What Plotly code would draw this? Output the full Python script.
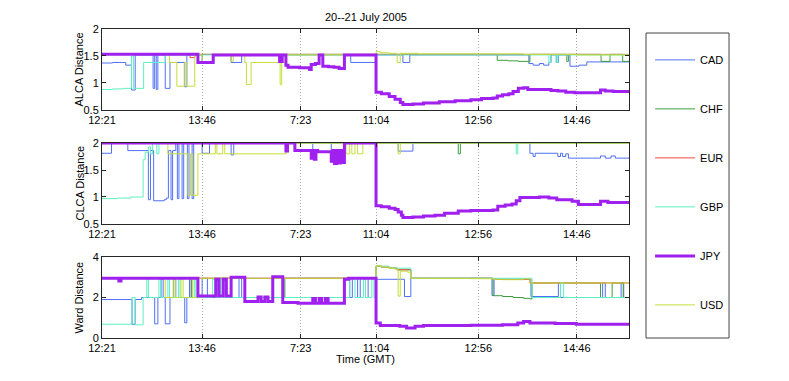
import plotly.graph_objects as go

# ---- data (x = sample index along the 20-21 July session, 0..1000) ----
currencies = ['CAD', 'CHF', 'EUR', 'GBP', 'JPY', 'USD']
tick_vals = [0, 190, 377, 520, 714, 901]
tick_text = ['12:21', '13:46', '7:23', '11:04', '12:56', '14:46']

# ALCA distance
alca_cad_x = [0, 20, 45, 56, 63, 97, 100, 103, 106, 120, 129, 157, 161, 190, 212, 245, 265, 472, 520, 571, 584, 810, 818, 830, 838, 848, 852, 862, 866, 888, 905, 920, 1000]
alca_cad_y = [1.37, 1.38, 1.33, 0.87, 1.52, 0.90, 1.52, 0.88, 1.52, 0.90, 1.38, 0.93, 1.52, 1.38, 1.52, 1.38, 1.52, 1.38, 1.52, 1.38, 1.52, 1.36, 1.33, 1.36, 1.33, 1.38, 1.52, 1.38, 1.52, 1.31, 1.33, 1.39, 1.39]
alca_chf_x = [0, 750, 770, 790, 808, 812, 882, 885, 947, 964, 988, 1000]
alca_chf_y = [1.53, 1.42, 1.41, 1.40, 1.39, 1.53, 1.40, 1.53, 1.40, 1.53, 1.40, 1.40]
alca_eur_x = [0, 167, 176, 1000]
alca_eur_y = [1.53, 1.47, 1.53, 1.53]
alca_gbp_x = [0, 20, 40, 56, 60, 79, 120, 848, 851, 862, 865, 1000]
alca_gbp_y = [0.88, 0.89, 0.90, 1.50, 0.90, 1.38, 1.52, 1.38, 1.52, 1.38, 1.52, 1.52]
alca_jpy_x = [0, 182, 211, 337, 342, 349, 353, 375, 394, 397, 405, 412, 419, 430, 440, 450, 460, 520, 530, 545, 556, 566, 571, 590, 610, 640, 670, 700, 720, 742, 750, 760, 772, 780, 790, 800, 808, 830, 852, 865, 880, 897, 930, 946, 955, 970, 1000]
alca_jpy_y = [1.53, 1.38, 1.52, 1.40, 1.52, 1.33, 1.29, 1.28, 1.25, 1.34, 1.36, 1.52, 1.31, 1.30, 1.29, 1.27, 1.52, 0.83, 0.80, 0.75, 0.70, 0.64, 0.60, 0.61, 0.63, 0.65, 0.67, 0.69, 0.71, 0.72, 0.76, 0.78, 0.80, 0.84, 0.90, 0.91, 0.88, 0.88, 0.86, 0.85, 0.83, 0.82, 0.82, 0.87, 0.85, 0.84, 0.84]
alca_usd_x = [0, 128, 142, 156, 160, 176, 190, 212, 245, 249, 271, 274, 283, 338, 341, 349, 520, 528, 545, 560, 566, 600, 700, 800, 900, 1000]
alca_usd_y = [1.53, 1.38, 0.94, 1.38, 0.94, 1.52, 1.38, 1.52, 1.40, 1.52, 1.38, 0.97, 1.38, 0.97, 1.38, 1.52, 1.58, 1.56, 1.55, 1.38, 1.55, 1.54, 1.54, 1.53, 1.52, 1.52]

# CLCA distance
clca_cad_x = [0, 18, 49, 88, 92, 98, 118, 122, 126, 131, 134, 140, 143, 146, 152, 155, 162, 165, 171, 174, 190, 204, 245, 250, 400, 435, 562, 590, 812, 818, 822, 865, 870, 874, 880, 885, 940, 946, 955, 966, 974, 1000]
clca_cad_y = [1.81, 2.0, 1.86, 0.95, 1.86, 0.93, 0.95, 0.98, 1.86, 0.95, 1.86, 2.0, 0.97, 2.0, 0.97, 2.0, 0.97, 2.0, 0.97, 2.0, 1.81, 2.0, 1.78, 2.0, 1.83, 2.0, 1.85, 2.0, 1.81, 1.75, 1.81, 1.75, 1.81, 1.75, 1.80, 1.72, 1.72, 1.76, 1.72, 1.76, 1.72, 1.71]
clca_chf_x = [0, 676, 680, 1000]
clca_chf_y = [2.0, 1.80, 2.0, 2.0]
clca_eur_x = [0, 1000]
clca_eur_y = [2.0, 2.0]
clca_gbp_x = [0, 30, 55, 78, 82, 88, 92, 96, 104, 108, 786, 789, 1000]
clca_gbp_y = [0.97, 0.98, 1.0, 1.69, 1.83, 1.93, 1.80, 2.0, 1.80, 2.0, 1.80, 2.0, 2.0]
clca_jpy_x = [0, 349, 352, 366, 397, 400, 403, 406, 409, 435, 438, 441, 445, 448, 452, 455, 460, 520, 530, 545, 556, 562, 568, 571, 590, 610, 632, 650, 676, 700, 742, 751, 765, 778, 786, 793, 830, 848, 863, 892, 904, 930, 946, 960, 1000]
clca_jpy_y = [2.0, 1.85, 2.0, 1.86, 1.72, 1.86, 1.70, 1.86, 1.84, 1.66, 1.86, 1.62, 1.86, 1.63, 1.86, 1.64, 2.0, 0.84, 0.82, 0.79, 0.77, 0.72, 0.66, 0.62, 0.63, 0.65, 0.66, 0.70, 0.74, 0.75, 0.76, 0.83, 0.85, 0.87, 0.93, 0.99, 1.0, 0.98, 0.95, 0.92, 0.86, 0.86, 0.92, 0.90, 0.91]
clca_usd_x = [0, 125, 163, 168, 172, 182, 215, 218, 229, 233, 350, 463, 470, 474, 480, 485, 495, 562, 566, 1000]
clca_usd_y = [2.0, 1.80, 1.03, 1.80, 1.03, 1.80, 2.0, 1.80, 2.0, 1.80, 2.0, 1.80, 2.0, 1.80, 2.0, 1.80, 2.0, 1.80, 2.0, 2.0]

# Ward distance
ward_cad_x = [0, 57, 63, 75, 100, 106, 112, 116, 120, 129, 136, 140, 157, 161, 166, 170, 190, 200, 215, 260, 265, 470, 475, 485, 490, 500, 505, 520, 574, 586, 740, 744, 814, 866, 870, 950, 955, 985, 990, 1000]
ward_cad_y = [1.9, 0.68, 1.9, 2.0, 0.7, 2.0, 2.9, 2.0, 0.7, 2.0, 2.9, 2.0, 0.75, 2.0, 2.9, 2.0, 2.95, 2.0, 2.95, 2.0, 2.95, 2.0, 2.95, 2.0, 2.95, 2.0, 2.95, 2.9, 2.05, 2.95, 2.1, 2.9, 2.05, 2.72, 2.0, 2.72, 2.0, 2.72, 2.0, 2.0]
ward_chf_x = [0, 32, 36, 271, 347, 520, 530, 545, 560, 586, 742, 760, 780, 800, 812, 816, 946, 968, 989, 1000]
ward_chf_y = [2.95, 2.82, 2.95, 2.0, 2.95, 3.55, 3.50, 3.45, 3.37, 2.95, 2.09, 2.05, 2.0, 1.96, 1.93, 2.72, 2.0, 2.72, 2.0, 2.0]
ward_eur_x = [0, 32, 36, 520, 530, 545, 560, 586, 742, 812, 1000]
ward_eur_y = [2.95, 2.82, 2.95, 3.55, 3.50, 3.45, 3.37, 2.95, 2.90, 2.72, 2.72]
ward_gbp_x = [0, 57, 63, 78, 85, 88, 108, 111, 125, 128, 145, 148, 175, 178, 210, 214, 225, 228, 470, 480, 496, 500, 512, 516, 520, 545, 586, 816, 870, 876, 1000]
ward_gbp_y = [0.68, 2.0, 0.65, 2.0, 2.9, 2.0, 2.9, 2.0, 2.9, 2.0, 2.9, 2.0, 2.9, 2.0, 2.9, 2.0, 2.9, 2.0, 2.9, 2.0, 2.9, 2.0, 2.9, 2.0, 3.55, 3.45, 2.95, 2.0, 2.72, 2.0, 2.0]
ward_jpy_x = [0, 32, 36, 182, 216, 222, 230, 236, 245, 271, 296, 302, 309, 315, 324, 343, 372, 400, 405, 412, 417, 424, 429, 460, 468, 520, 528, 565, 578, 594, 610, 700, 760, 789, 800, 812, 860, 900, 1000]
ward_jpy_y = [2.95, 2.82, 2.95, 2.07, 2.9, 2.07, 2.9, 2.07, 3.0, 1.8, 2.02, 1.8, 2.02, 1.8, 3.02, 1.76, 1.72, 1.95, 1.72, 1.95, 1.72, 1.95, 1.72, 2.9, 2.95, 0.74, 0.62, 0.58, 0.49, 0.58, 0.62, 0.63, 0.66, 0.74, 0.82, 0.74, 0.72, 0.68, 0.68]
ward_usd_x = [0, 120, 135, 139, 150, 154, 168, 172, 182, 520, 530, 545, 555, 562, 566, 580, 586, 620, 700, 742, 760, 800, 812, 1000]
ward_usd_y = [2.95, 2.0, 2.9, 2.0, 2.9, 2.0, 2.9, 2.0, 2.95, 3.57, 3.50, 3.45, 3.40, 2.07, 3.30, 3.25, 2.95, 2.95, 2.93, 2.90, 2.88, 2.92, 2.72, 2.72]

series = {
    1: {'CAD': (alca_cad_x, alca_cad_y), 'CHF': (alca_chf_x, alca_chf_y), 'EUR': (alca_eur_x, alca_eur_y),
        'GBP': (alca_gbp_x, alca_gbp_y), 'JPY': (alca_jpy_x, alca_jpy_y), 'USD': (alca_usd_x, alca_usd_y)},
    2: {'CAD': (clca_cad_x, clca_cad_y), 'CHF': (clca_chf_x, clca_chf_y), 'EUR': (clca_eur_x, clca_eur_y),
        'GBP': (clca_gbp_x, clca_gbp_y), 'JPY': (clca_jpy_x, clca_jpy_y), 'USD': (clca_usd_x, clca_usd_y)},
    3: {'CAD': (ward_cad_x, ward_cad_y), 'CHF': (ward_chf_x, ward_chf_y), 'EUR': (ward_eur_x, ward_eur_y),
        'GBP': (ward_gbp_x, ward_gbp_y), 'JPY': (ward_jpy_x, ward_jpy_y), 'USD': (ward_usd_x, ward_usd_y)},
}

colors = {'CAD': '#5070f5', 'CHF': '#3c9e3c', 'EUR': '#f04848',
          'GBP': '#5ef0c0', 'JPY': '#a020f0', 'USD': '#c6de38'}
# draw JPY last so the thick line sits on top, like the original
draw_order = ['CAD', 'CHF', 'EUR', 'GBP', 'USD', 'JPY']

FONT = 'Liberation Sans, Arial, sans-serif'
fig = go.Figure()

for row in (1, 2, 3):
    for cur in draw_order:
        xs, ys = series[row][cur]
        fig.add_trace(go.Scatter(
            x=xs, y=ys, mode='lines', name=cur,
            line=dict(color=colors[cur], width=3 if cur == 'JPY' else 1, shape='hv'),
            xaxis='x' if row == 1 else 'x%d' % row,
            yaxis='y' if row == 1 else 'y%d' % row,
            legendgroup=cur, legendrank=currencies.index(cur) + 1,
            showlegend=(row == 1), hoverinfo='skip'
        ))

axis_common = dict(showline=True, linecolor='#262626', linewidth=1, mirror='ticks',
                   ticks='inside', ticklen=4, tickcolor='#262626',
                   tickfont=dict(family=FONT, size=11, color='black'), zeroline=False)
domains = {1: [0.738, 1.0], 2: [0.369, 0.631], 3: [0.0, 0.262]}

layout = {}
for row in (1, 2, 3):
    sx = '' if row == 1 else str(row)
    layout['xaxis' + sx] = dict(axis_common, domain=[0, 1], range=[0, 1000],
                                tickvals=tick_vals, ticktext=tick_text,
                                showgrid=True, gridcolor='#a8a8a8', griddash='1px,2px', gridwidth=1,
                                anchor='y' + sx)
    if row == 3:
        layout['yaxis' + sx] = dict(axis_common, domain=domains[row], range=[0, 4],
                                    tickvals=[0, 2, 4], ticktext=['0', '2', '4'],
                                    showgrid=False, anchor='x' + sx)
    else:
        layout['yaxis' + sx] = dict(axis_common, domain=domains[row], range=[0.5, 2],
                                    tickvals=[0.5, 1, 1.5, 2], ticktext=['0.5', '1', '1.5', '2'],
                                    showgrid=False, anchor='x' + sx)

fig.update_layout(**layout)

y_labels = {1: 'ALCA Distance', 2: 'CLCA Distance', 3: 'Ward Distance'}
annotations = []
for row, txt in y_labels.items():
    d = domains[row]
    annotations.append(dict(text=txt, xref='paper', yref='paper', x=0, xshift=-23,
                            y=(d[0] + d[1]) / 2, textangle=-90, showarrow=False,
                            xanchor='center', yanchor='middle',
                            font=dict(family=FONT, size=11, color='black')))
annotations.append(dict(text='Time (GMT)', xref='paper', yref='paper', x=0.5, y=0, yshift=-21,
                        showarrow=False, xanchor='center', yanchor='middle',
                        font=dict(family=FONT, size=11, color='black')))
annotations.append(dict(text='20--21 July 2005', xref='paper', yref='paper', x=0.5, y=1, yshift=12,
                        showarrow=False, xanchor='center', yanchor='middle',
                        font=dict(family=FONT, size=11, color='black')))

# the page body adds an 8px offset, so the margins are shifted to compensate
fig.update_layout(
    width=789, height=381,
    margin=dict(l=94, r=168, t=21, b=51),
    paper_bgcolor='white', plot_bgcolor='white',
    annotations=annotations,
    showlegend=True,
    legend=dict(x=1.04, y=0.947, xanchor='left', yanchor='top',
                bgcolor='rgba(0,0,0,0)', borderwidth=0,
                tracegroupgap=30, itemwidth=40,
                font=dict(family=FONT, size=11, color='black')),
    shapes=[dict(type='rect', xref='paper', yref='paper',
                 x0=1.0323, x1=1.1898, y0=0.0, y1=0.987,
                 line=dict(color='#444444', width=1), fillcolor='rgba(0,0,0,0)')],
)

fig.write_html("out.html")
